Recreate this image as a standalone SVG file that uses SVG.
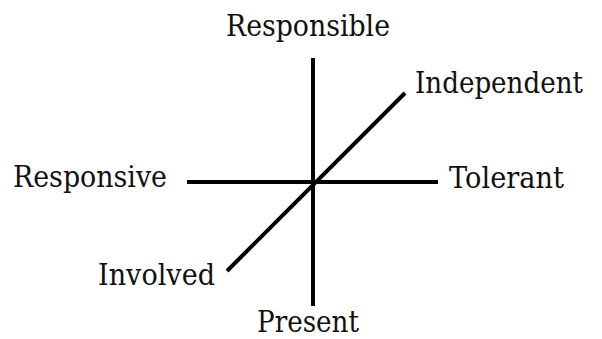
<svg xmlns="http://www.w3.org/2000/svg" width="602" height="339" viewBox="0 0 602 339">
<style>
.l{stroke:#000;stroke-width:4;fill:none}
text{font-family:"DejaVu Serif","Liberation Serif",serif;font-size:29px;fill:#111}
</style>
<rect width="602" height="339" fill="#fff"/>
<g id="connectors">
<line class="l" x1="313" y1="58" x2="313" y2="306"/>
<line class="l" x1="187" y1="182" x2="438" y2="182"/>
<line class="l" x1="227" y1="271" x2="405" y2="93"/>
</g>
<g id="responsible"><text x="226" y="36" textLength="164" lengthAdjust="spacingAndGlyphs">Responsible</text></g>
<g id="responsive"><text x="13" y="187" textLength="154" lengthAdjust="spacingAndGlyphs">Responsive</text></g>
<g id="independent"><text x="415" y="93" textLength="168" lengthAdjust="spacingAndGlyphs">Independent</text></g>
<g id="tolerant"><text x="449" y="188" textLength="115" lengthAdjust="spacingAndGlyphs">Tolerant</text></g>
<g id="involved"><text x="98" y="285" textLength="117" lengthAdjust="spacingAndGlyphs">Involved</text></g>
<g id="present"><text x="257" y="332" textLength="102" lengthAdjust="spacingAndGlyphs">Present</text></g>
</svg>
